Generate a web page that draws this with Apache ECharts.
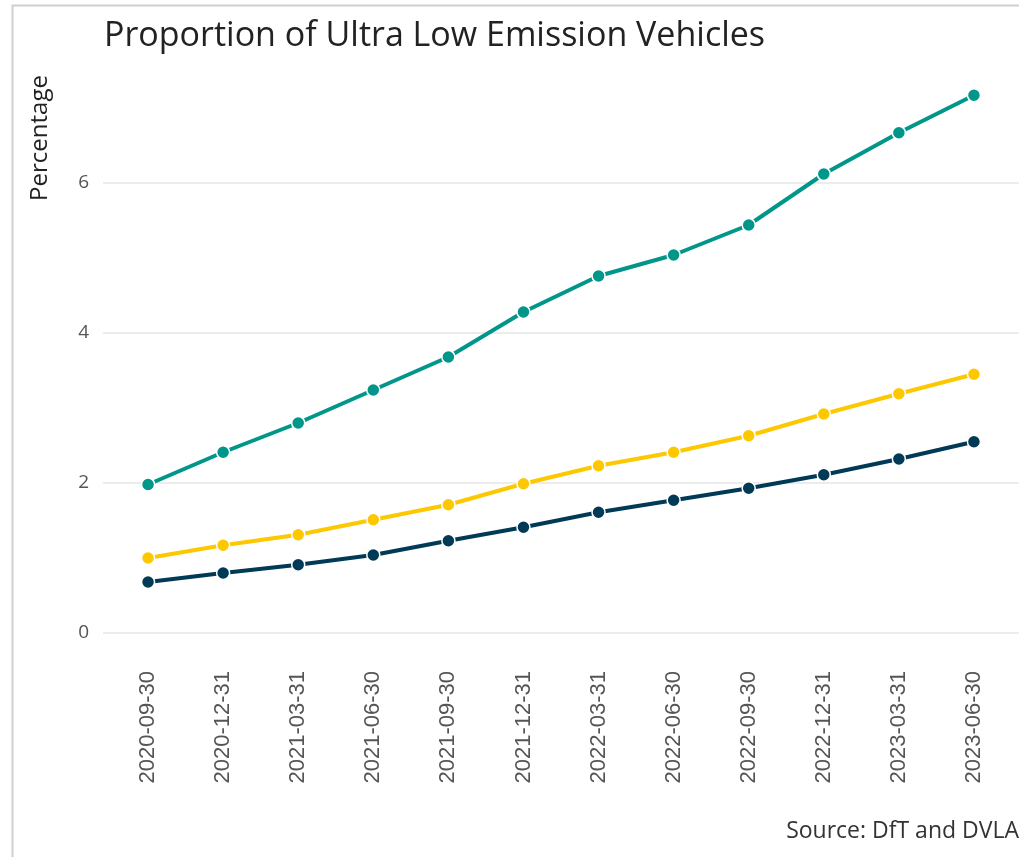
<!DOCTYPE html>
<html>
<head>
<meta charset="utf-8">
<script src="https://cdn.jsdelivr.net/npm/echarts@6/dist/echarts.min.js"></script>
<style>
html,body{margin:0;padding:0;background:#fff;}
#chart{width:1019px;height:857px;}
</style>
</head>
<body>
<div id="chart"></div>
<script>
var categories = ['2020-09-30','2020-12-31','2021-03-31','2021-06-30','2021-09-30','2021-12-31','2022-03-31','2022-06-30','2022-09-30','2022-12-31','2023-03-31','2023-06-30'];
var seriesTeal = [1.98, 2.41, 2.80, 3.24, 3.68, 4.28, 4.76, 5.04, 5.44, 6.12, 6.67, 7.17];
var seriesYellow = [1.00, 1.17, 1.31, 1.51, 1.71, 1.99, 2.23, 2.41, 2.63, 2.92, 3.19, 3.45];
var seriesNavy = [0.68, 0.80, 0.91, 1.04, 1.23, 1.41, 1.61, 1.77, 1.93, 2.11, 2.32, 2.55];
var yTicks = [0, 2, 4, 6];
var titleText = 'Proportion of Ultra Low Emission Vehicles';
var yName = 'Percentage';
var sourceText = 'Source: DfT and DVLA';

function pairs(arr){ return arr.map(function(v,i){ return [i, v]; }); }
var idx = categories.map(function(c,i){ return i; });

function mkSeries(name, data, color){
  return {
    name: name, type: 'line', data: pairs(data),
    symbol: 'circle', symbolSize: 13,
    lineStyle: {color: color, width: 4},
    itemStyle: {color: color, borderColor: '#fff', borderWidth: 1.5},
    emphasis: {disabled: true},
    z: 3
  };
}

var chart = echarts.init(document.getElementById('chart'), null, {renderer: 'canvas'});
chart.setOption({
  animation: false,
  backgroundColor: '#fff',
  title: {
    text: titleText, left: 99, top: 14,
    textStyle: {fontFamily: 'Open Sans', fontSize: 34, fontWeight: 'normal', color: '#222'}
  },
  graphic: [
    {type: 'rect', shape: {x: 12.5, y: 5.5, width: 1200, height: 1000}, style: {fill: null, stroke: '#cfcfcf', lineWidth: 2}, silent: true, z: -1},
    {type: 'text', x: 40, y: 138, rotation: Math.PI/2, style: {text: yName, fontFamily: 'Open Sans', fontSize: 24, fill: '#222', align: 'center', verticalAlign: 'middle'}},
    {type: 'text', right: 0, top: 820, style: {text: sourceText, fontFamily: 'Open Sans', fontSize: 23, fill: '#333'}}
  ],
  grid: {left: 103, right: 0, top: 70.5, bottom: 224, containLabel: false},
  xAxis: {
    type: 'value', min: -0.6, max: 11.6,
    axisLine: {show: false}, axisTick: {show: false}, splitLine: {show: false},
    axisLabel: {
      customValues: idx,
      rotate: 90, margin: 38,
      fontFamily: 'Liberation Sans', fontSize: 22, color: '#555',
      formatter: function(v){ return categories[Math.round(v)] || ''; }
    }
  },
  yAxis: {
    type: 'value', min: 0, max: 7.5, interval: 2,
    axisLine: {show: false}, axisTick: {show: false},
    splitLine: {show: true, showMaxLine: false, lineStyle: {color: '#e6e6e6', width: 1.5}},
    axisLabel: {
      showMaxLabel: false, margin: 14,
      fontFamily: 'Open Sans', fontSize: 19, color: '#555',
      formatter: function(v){ return yTicks.indexOf(v) >= 0 ? String(v) : ''; }
    }
  },
  series: [
    mkSeries('Teal', seriesTeal, '#00978a'),
    mkSeries('Yellow', seriesYellow, '#fdc800'),
    mkSeries('Navy', seriesNavy, '#003a56')
  ]
});
</script>
</body>
</html>
